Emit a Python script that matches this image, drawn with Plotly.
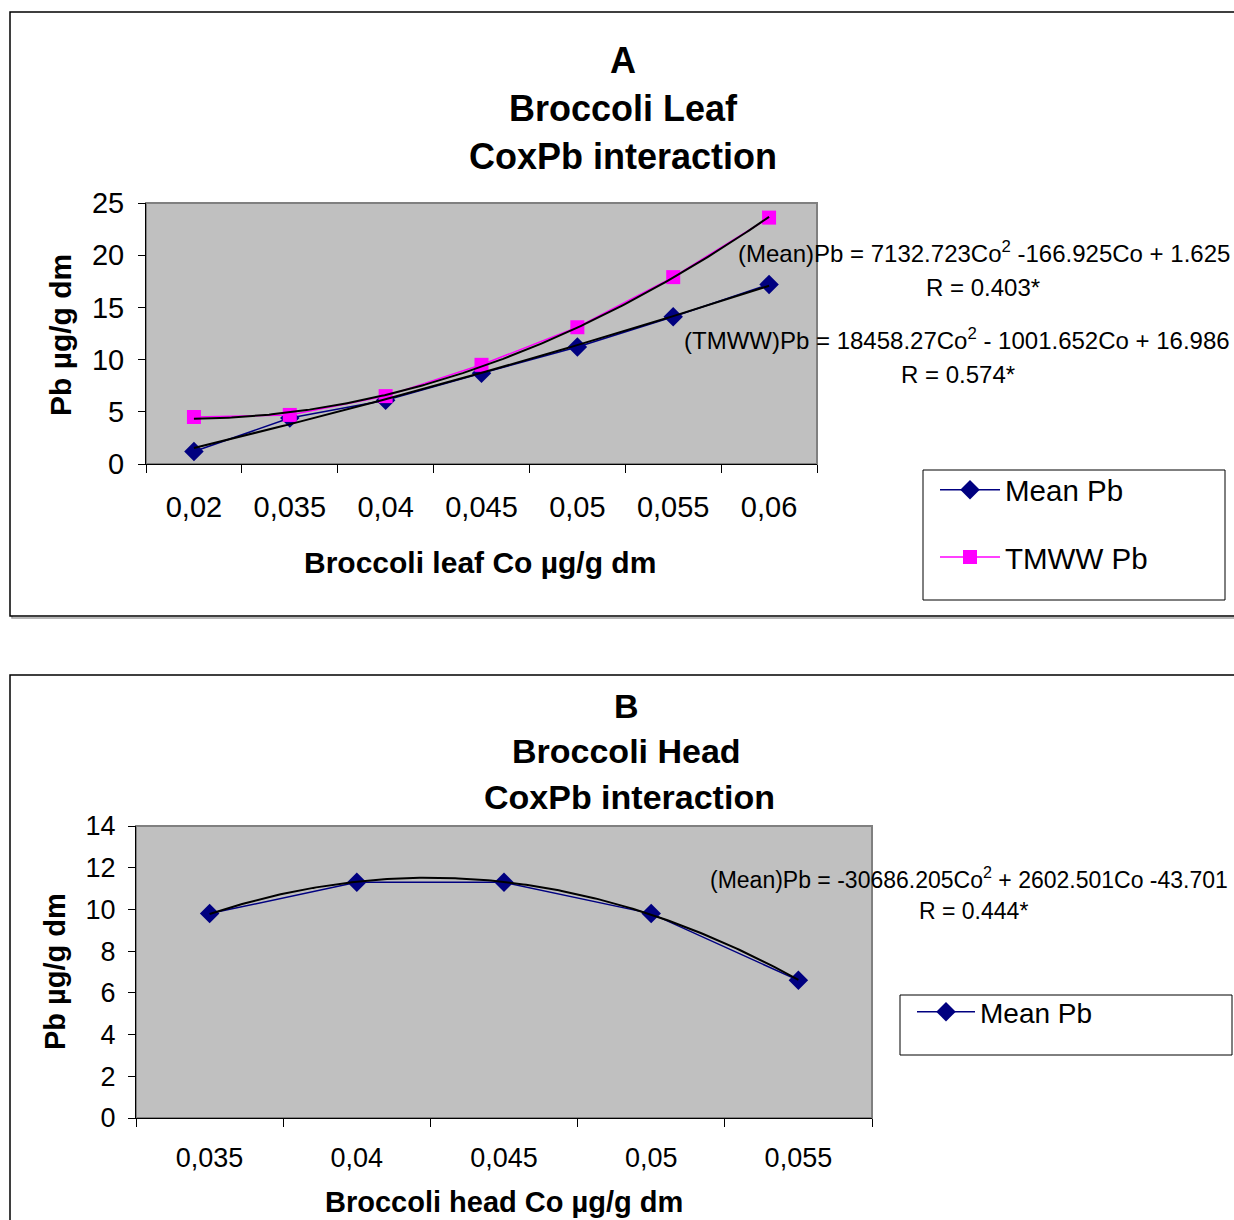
import numpy as np
import plotly.graph_objects as go

W, H = 1234, 1220

# ---------------- data ----------------
cats_a = ["0,02", "0,035", "0,04", "0,045", "0,05", "0,055", "0,06"]
mean_a = [1.2, 4.4, 6.1, 8.7, 11.2, 14.1, 17.2]
tmww_a = [4.5, 4.7, 6.5, 9.5, 13.1, 17.9, 23.6]

cats_b = ["0,035", "0,04", "0,045", "0,05", "0,055"]
mean_b = [9.8, 11.3, 11.3, 9.8, 6.6]

NAVY = "#000080"
MAG = "#FF00FF"
FONT = "Liberation Sans, Arial, sans-serif"


def px(x):
    return x / W


def py(y):
    return 1 - y / H


def trend(vals, n_dense=200):
    idx = np.arange(len(vals))
    c = np.polyfit(idx, vals, 2)
    xs = np.linspace(0, len(vals) - 1, n_dense)
    return xs, np.polyval(c, xs)


fig = go.Figure()

# ---- Panel A ----
ia = list(range(len(cats_a)))
fig.add_trace(go.Scatter(x=ia, y=mean_a, mode="lines+markers", name="Mean Pb",
                         line=dict(color=NAVY, width=1.5),
                         marker=dict(symbol="diamond", size=15, color=NAVY),
                         xaxis="x", yaxis="y", legend="legend", legendgroup="a1"))
fig.add_trace(go.Scatter(x=ia, y=tmww_a, mode="lines+markers", name="TMWW Pb",
                         line=dict(color=MAG, width=1.5),
                         marker=dict(symbol="square", size=14, color=MAG),
                         xaxis="x", yaxis="y", legend="legend", legendgroup="a2"))
for vals in (mean_a, tmww_a):
    tx, ty = trend(vals)
    fig.add_trace(go.Scatter(x=tx, y=ty, mode="lines", line=dict(color="black", width=2),
                             showlegend=False, hoverinfo="skip", xaxis="x", yaxis="y"))

# ---- Panel B ----
ib = list(range(len(cats_b)))
fig.add_trace(go.Scatter(x=ib, y=mean_b, mode="lines+markers", name="Mean Pb",
                         line=dict(color=NAVY, width=1.5),
                         marker=dict(symbol="diamond", size=15, color=NAVY),
                         xaxis="x2", yaxis="y2", legend="legend2"))
tx, ty = trend(mean_b)
fig.add_trace(go.Scatter(x=tx, y=ty, mode="lines", line=dict(color="black", width=2),
                         showlegend=False, hoverinfo="skip", xaxis="x2", yaxis="y2"))

# plot areas (pixel boxes)
A_box = (146, 203, 817, 464)
B_box = (136, 826, 872, 1118)


def xaxis_cfg(box, cats, fsize, standoff):
    n = len(cats)
    return dict(domain=[px(box[0]), px(box[2])], range=[-0.5, n - 0.5],
                tickmode="array", tickvals=list(range(n)), ticktext=cats,
                ticks="", showgrid=False, zeroline=False,
                showline=True, linecolor="black", linewidth=1,
                tickfont=dict(family=FONT, size=fsize, color="black"),
                ticklabelstandoff=standoff,
                minor=dict(tickmode="array", tickvals=[i - 0.5 for i in range(n + 1)],
                           ticks="outside", ticklen=8, tickcolor="black", tickwidth=1,
                           showgrid=False))


def yaxis_cfg(box, rng, dt, anchor, fsize, standoff):
    return dict(domain=[py(box[3]), py(box[1])], range=rng, dtick=dt,
                ticks="outside", ticklen=7, tickcolor="black", tickwidth=1,
                showgrid=False, zeroline=False, showline=True, linecolor="black",
                linewidth=1, tickfont=dict(family=FONT, size=fsize, color="black"),
                ticklabelstandoff=standoff, anchor=anchor)


shapes = []
# panel borders with slight shadow
for (x0, y0, x1, y1) in [(10, 12, 1250, 616), (10, 675, 1250, 1240)]:
    shapes.append(dict(type="rect", xref="paper", yref="paper",
                       x0=px(x0 + 2), y0=py(y1 + 2), x1=px(x1 + 2), y1=py(y0 + 2),
                       line=dict(color="#a0a0a0", width=1.5), layer="below"))
    shapes.append(dict(type="rect", xref="paper", yref="paper",
                       x0=px(x0), y0=py(y1), x1=px(x1), y1=py(y0),
                       line=dict(color="black", width=1.5), fillcolor="white", layer="below"))
# plot area backgrounds / gray border
for b in (A_box, B_box):
    shapes.append(dict(type="rect", xref="paper", yref="paper",
                       x0=px(b[0]), y0=py(b[3]), x1=px(b[2]), y1=py(b[1]),
                       line=dict(color="#808080", width=2), fillcolor="#C0C0C0", layer="below"))
# legend boxes
for (x0, y0, x1, y1) in [(923, 470, 1225, 600), (900, 995, 1232, 1055)]:
    shapes.append(dict(type="rect", xref="paper", yref="paper",
                       x0=px(x0), y0=py(y1), x1=px(x1), y1=py(y0),
                       line=dict(color="black", width=1), fillcolor="white", layer="below"))


def ann(text, x, y, size, bold=False, xanchor="center", angle=0):
    t = f"<b>{text}</b>" if bold else text
    return dict(text=t, x=px(x), y=py(y), xref="paper", yref="paper",
                xanchor=xanchor, yanchor="middle", showarrow=False, textangle=angle,
                font=dict(family=FONT, size=size, color="black"))


annotations = [
    ann("A", 623, 60, 36, True),
    ann("Broccoli Leaf", 623, 108, 36, True),
    ann("CoxPb interaction", 623, 157, 36, True),
    ann("B", 626, 706, 34, True),
    ann("Broccoli Head", 626, 751, 34, True),
    ann("CoxPb interaction", 629, 797, 34, True),
    ann("Pb µg/g dm", 60, 335, 30, True, angle=-90),
    ann("Broccoli leaf Co µg/g dm", 480, 562, 30, True),
    ann("Pb µg/g dm", 55, 972, 29, True, angle=-90),
    ann("Broccoli head Co µg/g dm", 504, 1202, 29, True),
    ann("(Mean)Pb = 7132.723Co<sup>2</sup> -166.925Co + 1.625", 1232, 252, 24, xanchor="right"),
    ann("R = 0.403*", 983, 288, 24),
    ann("(TMWW)Pb = 18458.27Co<sup>2</sup> - 1001.652Co + 16.986", 1232, 339, 24, xanchor="right"),
    ann("R = 0.574*", 958, 375, 24),
    ann("(Mean)Pb = -30686.205Co<sup>2</sup> + 2602.501Co -43.701", 1230, 878, 23, xanchor="right"),
    ann("R = 0.444*", 973, 911, 23),
]

fig.update_layout(
    width=W, height=H, margin=dict(l=0, r=0, t=0, b=0, autoexpand=False),
    paper_bgcolor="white", plot_bgcolor="rgba(0,0,0,0)",
    font=dict(family=FONT, color="black"),
    xaxis=xaxis_cfg(A_box, cats_a, 29, 17),
    yaxis=yaxis_cfg(A_box, [0, 25], 5, "x", 29, 8),
    xaxis2=dict(**xaxis_cfg(B_box, cats_b, 27, 16), anchor="y2"),
    yaxis2=yaxis_cfg(B_box, [0, 14], 2, "x2", 27, 7),
    shapes=shapes, annotations=annotations,
    legend=dict(x=px(935), y=py(464), xanchor="left", yanchor="top",
                bgcolor="rgba(0,0,0,0)", borderwidth=0, itemwidth=60,
                font=dict(family=FONT, size=29.5, color="black"),
                tracegroupgap=26),
    legend2=dict(x=px(912), y=py(987), xanchor="left", yanchor="top",
                 bgcolor="rgba(0,0,0,0)", borderwidth=0, itemwidth=58,
                 font=dict(family=FONT, size=28, color="black")),
    showlegend=True,
)

fig.write_html("out.html", config={"displayModeBar": False},
               post_script="document.body.style.margin='0';document.body.style.overflow='hidden';")
